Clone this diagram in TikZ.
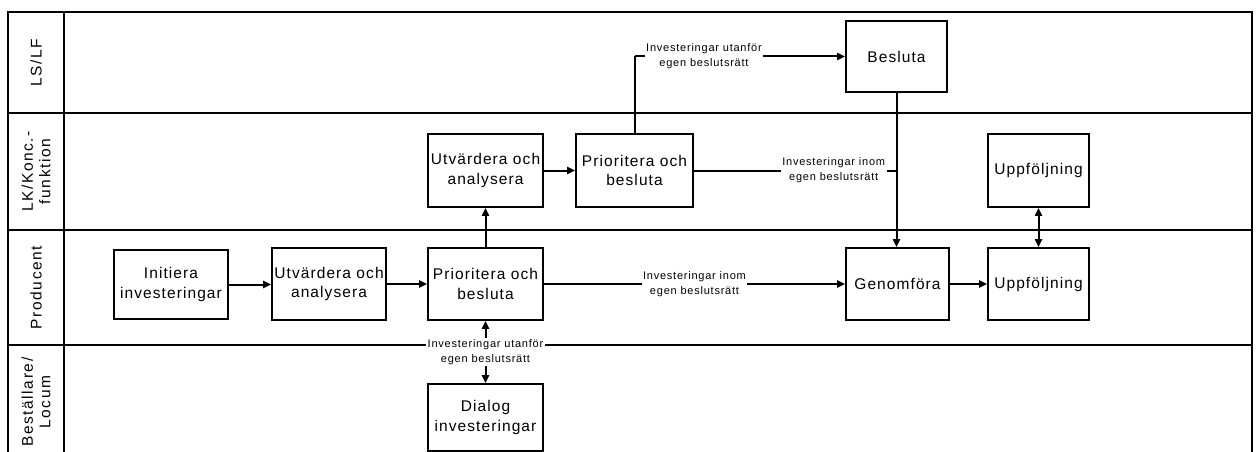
\documentclass[tikz,border=0pt]{standalone}
\usepackage{fontspec}
\setmainfont{Liberation Sans}[LetterSpace=7]
\newfontfamily\hdrfont{Liberation Sans}[LetterSpace=10]
\usetikzlibrary{arrows.meta}
\tikzset{
  box/.style={draw, line width=1.8pt, inner sep=0pt, align=center,
    font=\fontsize{15.5}{19.5}\selectfont},
  lbl/.style={fill=white, inner sep=1.5pt, align=center,
    font=\fontsize{11}{15}\selectfont},
  hdr/.style={rotate=90, align=center, inner sep=0pt,
    font=\hdrfont\fontsize{15.5}{17.5}\selectfont},
  lane/.style={line width=2.3pt},
  conn/.style={line width=2pt, -{Triangle[length=8pt,width=7pt]}},
  plain/.style={line width=2pt},
  both/.style={line width=2pt, {Triangle[length=8pt,width=7pt]}-{Triangle[length=8pt,width=7pt]}}
}
\begin{document}
\begin{tikzpicture}[x=1pt,y=-1pt]
\useasboundingbox (0,0) rectangle (1259,452);
\clip (0,0) rectangle (1259,452);
% swimlanes
\draw[lane] (8,459) -- (8,12) -- (1252,12) -- (1252,459);
\draw[lane] (64,12) -- (64,459);
\draw[lane] (8,113) -- (1252,113);
\draw[lane] (8,230) -- (1252,230);
\draw[lane] (8,345) -- (1252,345);
% lane headers
\node[hdr] (hLS) at (36,62.5) {LS/LF};
\node[hdr] (hLK) at (36,171.5) {LK/Konc.-\\funktion};
\node[hdr] (hPR) at (36,287.5) {Producent};
\node[hdr] (hBE) at (36,402) {Beställare/\\Locum};
% boxes
\node[box, minimum width=114pt, minimum height=69pt] (init) at (171,284.5) {Initiera\\investeringar};
\node[box, minimum width=114pt, minimum height=72pt] (utv1) at (329,284) {Utvärdera och\\analysera};
\node[box, minimum width=115pt, minimum height=72pt] (prio1) at (485.5,284) {Prioritera och\\besluta};
\node[box, minimum width=115pt, minimum height=67pt] (dialog) at (485.5,417.5) {Dialog\\investeringar};
\node[box, minimum width=115pt, minimum height=73pt] (utv2) at (485.5,170.5) {Utvärdera och\\analysera};
\node[box, minimum width=117pt, minimum height=73pt] (prio2) at (634.5,170.5) {Prioritera och\\besluta};
\node[box, minimum width=101pt, minimum height=71pt] (besluta) at (896.5,56.5) {Besluta};
\node[box, minimum width=103pt, minimum height=72pt] (genom) at (897.5,284) {Genomföra};
\node[box, minimum width=101pt, minimum height=73pt] (uppf1) at (1038.5,170.5) {Uppföljning};
\node[box, minimum width=101pt, minimum height=72pt] (uppf2) at (1038.5,284) {Uppföljning};
% connectors
\draw[conn] (init.east) -- (utv1.west |- init.east);
\draw[conn] (utv1.east) -- (prio1.west);
\draw[conn] (prio1.north) -- (utv2.south);
\draw[conn] (utv2.east) -- (prio2.west);
\coordinate (c1) at (prio2.north |- besluta.west);
\draw[plain] (prio2.north) -- (c1);
\draw[conn] (c1) -- node[lbl, pos=0.33] {Investeringar utanför\\egen beslutsrätt} (besluta.west);
\draw[conn] (besluta.south) -- (besluta.south |- genom.north);
\coordinate (c2) at (besluta.south |- prio2.east);
\draw[plain] (prio2.east) -- node[lbl, pos=0.69] {Investeringar inom\\egen beslutsrätt} (c2);
\draw[conn] (prio1.east) -- node[lbl] {Investeringar inom\\egen beslutsrätt} (genom.west);
\draw[conn] (genom.east) -- (uppf2.west);
\draw[both] (uppf1.south) -- (uppf2.north);
\draw[both] (prio1.south) -- node[lbl] {Investeringar utanför\\egen beslutsrätt} (dialog.north);
\end{tikzpicture}
\end{document}
